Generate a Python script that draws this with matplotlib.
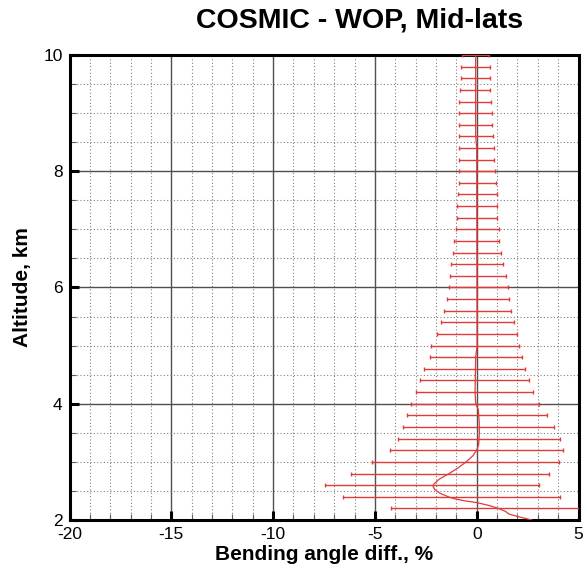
import numpy as np
import matplotlib.pyplot as plt
from matplotlib.ticker import MultipleLocator

plt.rcParams['font.family'] = ['Liberation Sans', 'DejaVu Sans']
plt.rcParams['axes.unicode_minus'] = False

# spread bars: altitude (km), lower / upper edge (%)
bar_alt = [10.0, 9.8, 9.6, 9.4, 9.2, 9.0, 8.8, 8.6, 8.4, 8.2,
           8.0, 7.8, 7.6, 7.4, 7.2, 7.0, 6.8, 6.6, 6.4, 6.2,
           6.0, 5.8, 5.6, 5.4, 5.2, 5.0, 4.8, 4.6, 4.4, 4.2,
           4.0, 3.8, 3.6, 3.4, 3.2, 3.0, 2.8, 2.6, 2.4, 2.2]
bar_lo = [-0.72, -0.76, -0.76, -0.80, -0.85, -0.85, -0.85, -0.85, -0.87, -0.87,
          -0.87, -0.87, -0.92, -0.95, -0.97, -1.03, -1.11, -1.16, -1.25, -1.30,
          -1.36, -1.44, -1.59, -1.74, -1.96, -2.23, -2.31, -2.57, -2.77, -2.98,
          -3.21, -3.41, -3.62, -3.88, -4.26, -5.14, -6.19, -7.44, -6.55, -4.19]
bar_hi = [0.62, 0.63, 0.64, 0.67, 0.72, 0.74, 0.77, 0.82, 0.83, 0.83,
          0.90, 0.93, 1.01, 1.01, 1.01, 1.10, 1.11, 1.19, 1.31, 1.46,
          1.55, 1.60, 1.69, 1.82, 1.96, 2.06, 2.21, 2.36, 2.55, 2.78,
          3.05, 3.44, 3.80, 4.11, 4.25, 4.06, 3.55, 3.07, 4.09, 6.30]

# mean difference profile
mean_alt = [10.0, 8.6, 8.4, 5.0, 4.8, 4.2, 4.0, 3.9, 3.7, 3.5,
            3.3, 3.2, 3.1, 3.0, 2.9, 2.8, 2.7, 2.62, 2.58, 2.52,
            2.46, 2.4, 2.37, 2.33, 2.3, 2.25, 2.2, 2.15, 2.1, 2.05, 2.0]
mean_val = [-0.05, -0.05, 0.0, 0.02, -0.05, -0.08, -0.05, 0.08, 0.12, 0.13,
            0.10, 0.0, -0.2, -0.52, -0.9, -1.35, -1.85, -2.1, -2.15, -2.05,
            -1.8, -1.4, -1.15, -0.6, 0.0, 0.6, 1.06, 1.4, 1.6, 2.13, 2.7]

red = '#e03a3a'

fig = plt.figure(figsize=(5.85, 5.64), dpi=100)
ax = fig.add_axes([69.5 / 585, 44 / 564, 509 / 585, 465 / 564])

lo = np.array(bar_lo)
hi = np.array(bar_hi)
ax.errorbar((lo + hi) / 2, bar_alt, xerr=(hi - lo) / 2, fmt='none',
            ecolor=red, elinewidth=1.0, capsize=1.5, capthick=1.0, zorder=3)
ax.plot(mean_val, mean_alt, color=red, lw=0.9, zorder=4)

ax.set_xlim(-20, 5)
ax.set_ylim(2, 10)
ax.xaxis.set_major_locator(MultipleLocator(5))
ax.xaxis.set_minor_locator(MultipleLocator(1))
ax.yaxis.set_major_locator(MultipleLocator(2))
ax.yaxis.set_minor_locator(MultipleLocator(0.5))

ax.grid(which='minor', color='#808080', lw=0.8, linestyle=(0, (1, 2)))
ax.grid(which='major', color='#505050', lw=1.0, linestyle='-')
ax.set_axisbelow(True)

ax.tick_params(which='major', direction='in', length=6.5, width=2.2,
               color='black', labelsize=12.5, pad=5)
ax.tick_params(which='minor', direction='in', length=4, width=0.8,
               color='#606060')
for sp in ax.spines.values():
    sp.set_linewidth(2.2)
    sp.set_color('black')

ax.set_xlabel('Bending angle diff., %', fontsize=15, fontweight='bold',
              labelpad=2)
ax.set_ylabel('Altitude, km', fontsize=15, fontweight='bold', labelpad=8)
fig.text(359.5 / 585, 1 - 21 / 564, 'COSMIC - WOP, Mid-lats', fontsize=20.5,
         fontweight='bold', ha='center', va='center')

fig.savefig('out.png', dpi=100)
